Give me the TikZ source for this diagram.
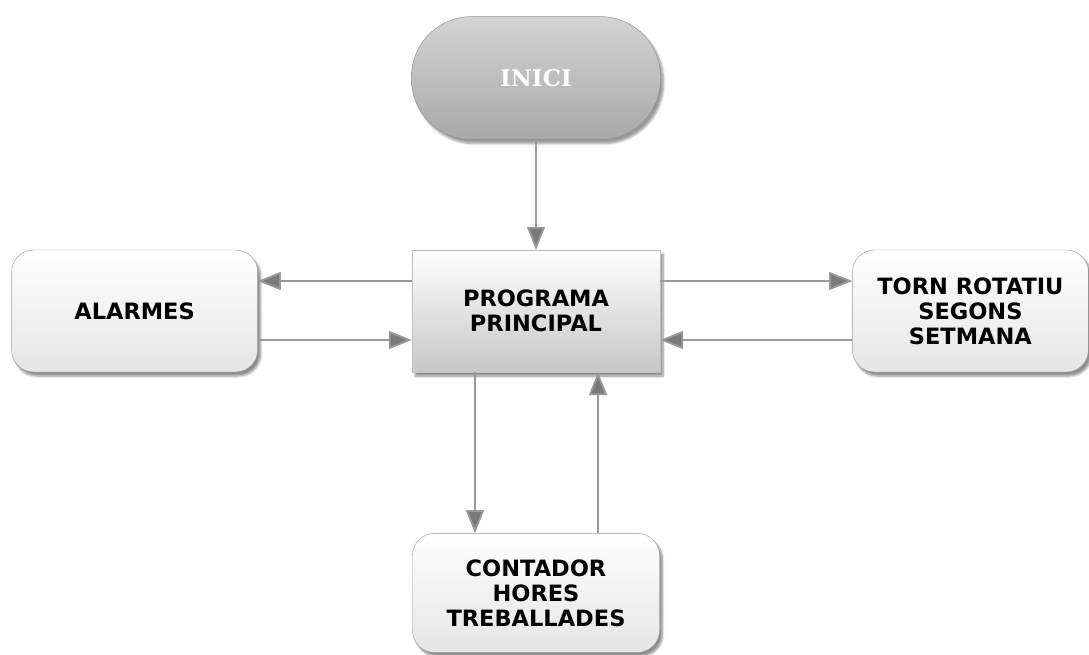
\documentclass[tikz,border=0pt]{standalone}
\usepackage{fontspec}
\setmainfont{DejaVu Sans}
\newfontfamily\startfont{DejaVu Serif}
\usepackage{tikz}
\usetikzlibrary{arrows.meta,positioning,shadows.blur}
\tikzset{
  startbox/.style={draw=black!45,rounded corners=60pt,top color=black!17,bottom color=black!34,
    minimum width=249pt,minimum height=123pt,text=white,font=\startfont\bfseries\fontsize{23}{25}\selectfont,
    blur shadow={shadow xshift=3pt,shadow yshift=-4pt,shadow blur steps=6,shadow opacity=40}},
  mainbox/.style={draw=black!25,top color=white,bottom color=black!22,align=center,
    minimum width=248pt,minimum height=122pt,font=\bfseries\fontsize{22.5}{25}\selectfont,
    blur shadow={shadow xshift=3pt,shadow yshift=-4pt,shadow blur steps=6,shadow opacity=45}},
  taskbox/.style={draw=black!40,rounded corners=22pt,top color=white,bottom color=black!10,align=center,
    minimum height=122pt,font=\bfseries\fontsize{22.5}{25}\selectfont,
    blur shadow={shadow xshift=3pt,shadow yshift=-4pt,shadow blur steps=6,shadow opacity=45}},
  flowarrow/.style={-{Triangle[length=23pt,width=18pt,fill=black!52]},draw=black!40,line width=1.8pt}
}
\begin{document}
\begin{tikzpicture}[x=1pt,y=-1pt]
  \useasboundingbox (0,0) rectangle (1089,655);
  \node[mainbox] (prog) at (536,311) {PROGRAMA\\PRINCIPAL};
  \node[startbox,above=110pt of prog] (start) {INICI};
  \node[taskbox,minimum width=246pt,left=154pt of prog] (alarm) {ALARMES};
  \node[taskbox,minimum width=236pt,right=192pt of prog] (torn) {TORN ROTATIU\\SEGONS\\SETMANA};
  \node[taskbox,minimum width=247pt,minimum height=119pt,below=161pt of prog] (count) {CONTADOR\\HORES\\TREBALLADES};
  % connectors
  \draw[flowarrow] (start) -- (prog);
  \draw[flowarrow] ([yshift=30pt]prog.west) -- ([yshift=30pt]prog.west -| alarm.east);
  \draw[flowarrow] ([yshift=-29pt]alarm.east |- prog.west) -- ([yshift=-29pt]prog.west);
  \draw[flowarrow] ([yshift=30pt]prog.east) -- ([yshift=30pt]prog.east -| torn.west);
  \draw[flowarrow] ([yshift=-29pt]torn.west |- prog.east) -- ([yshift=-29pt]prog.east);
  \draw[flowarrow] ([xshift=-61pt]prog.south) -- ([xshift=-61pt]prog.south |- count.north);
  \draw[flowarrow] ([xshift=62pt]prog.south |- count.north) -- ([xshift=62pt]prog.south);
\end{tikzpicture}
\end{document}
